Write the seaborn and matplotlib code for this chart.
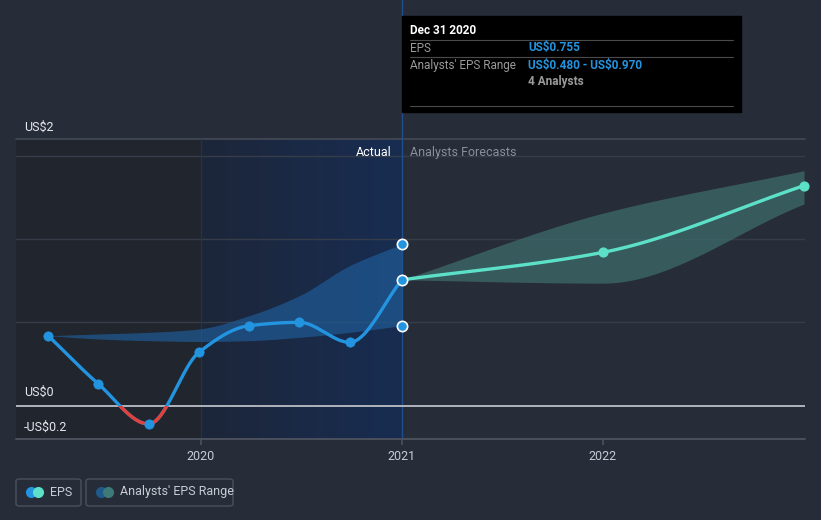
import numpy as np
import pandas as pd
import matplotlib
matplotlib.use("Agg")
import matplotlib.pyplot as plt
import seaborn as sns
from matplotlib.patches import Rectangle, FancyBboxPatch
from matplotlib.colors import LinearSegmentedColormap

# ── data ──────────────────────────────────────────────────────
eps_x = [2019.24, 2019.49, 2019.74, 2019.99, 2020.24, 2020.49, 2020.74, 2021.0]
eps_y = [0.42, 0.13, -0.11, 0.32, 0.48, 0.50, 0.38, 0.755]

past_hi = [0.42, 0.43, 0.44, 0.46, 0.54, 0.66, 0.84, 0.97]
past_lo = [0.42, 0.40, 0.39, 0.385, 0.39, 0.41, 0.44, 0.48]

fc_x = [2021.0, 2022.0, 2023.0]
fc_y = [0.755, 0.92, 1.32]
fc_hi = [0.755, 1.155, 1.41]
fc_lo = [0.755, 0.735, 1.21]

year_ticks = [2020, 2021, 2022]

BG = "#262c38"
BLUE = "#2394df"
RED = "#e0413d"
TEAL = "#5ce1c8"


def smooth(xs, ys, n=40):
    # monotone cubic (pchip-like) for drawing the curve between readings
    xs = np.asarray(xs, float); ys = np.asarray(ys, float)
    h = np.diff(xs); d = np.diff(ys) / h
    m = np.zeros_like(ys)
    m[0], m[-1] = d[0], d[-1]
    for i in range(1, len(xs) - 1):
        if d[i - 1] * d[i] > 0:
            w1 = 2 * h[i] + h[i - 1]; w2 = h[i] + 2 * h[i - 1]
            m[i] = (w1 + w2) / (w1 / d[i - 1] + w2 / d[i])
    ox, oy = [], []
    for i in range(len(xs) - 1):
        t = np.linspace(0, 1, n, endpoint=False)
        h00 = 2*t**3 - 3*t**2 + 1; h10 = t**3 - 2*t**2 + t
        h01 = -2*t**3 + 3*t**2; h11 = t**3 - t**2
        ox.extend(xs[i] + t * h[i])
        oy.extend(h00*ys[i] + h10*h[i]*m[i] + h01*ys[i+1] + h11*h[i]*m[i+1])
    ox.append(xs[-1]); oy.append(ys[-1])
    return np.array(ox), np.array(oy)


# ── figure ────────────────────────────────────────────────────
sns.set_theme(style="dark")
plt.rcParams["font.family"] = ["Roboto", "DejaVu Sans"]
plt.rcParams["text.parse_math"] = False

fig = plt.figure(figsize=(8.21, 5.2), dpi=100, facecolor=BG)
ax = fig.add_axes([16/821, 81/520, 789/821, 300/520])
ax.set_facecolor(BG)
X0, X1 = 2019.08, 2023.005
Y0, Y1 = -0.2, 1.6

# shaded "past" background
ax.add_patch(Rectangle((X0, Y0), 2020 - X0, Y1 - Y0, color="#21252e", lw=0, zorder=0))
grad = LinearSegmentedColormap.from_list("g", ["#1d2639", "#182d52"])
ax.imshow(np.linspace(0, 1, 256)[None, :], cmap=grad, aspect="auto",
          extent=(2020, 2021, Y0, Y1), zorder=0)
ax.set_xlim(X0, X1)
ax.set_ylim(Y0, Y1)

# grid
for g in [0.5, 1.0, 1.5]:
    ax.axhline(g, color="#363c48", lw=1, zorder=1)
ax.axhline(1.6, color="#444a56", lw=1.2, zorder=1, clip_on=False)
ax.axhline(0, color="#b0b4bc", lw=1.4, zorder=2)
ax.axhline(-0.2, color="#4a505c", lw=1.4, zorder=2, clip_on=False)
ax.axvline(2020, color="#20345a", lw=0.8, zorder=1)
ax.axvline(2021, ymin=0, ymax=1.47, color="#1f4f8f", lw=1, zorder=1, clip_on=False)

# bands
bx, bhi = smooth(eps_x, past_hi)
_, blo = smooth(eps_x, past_lo)
ax.fill_between(bx, blo, bhi, color="#1f5a95", alpha=0.7, lw=0, zorder=2)
fx, fhi = smooth(fc_x, fc_hi)
_, flo = smooth(fc_x, fc_lo)
ax.fill_between(fx, flo, fhi, color="#3d6a6a", alpha=0.75, lw=0, zorder=2)

# eps line
sx, sy = smooth(eps_x, eps_y)
curve = pd.DataFrame({"x": sx, "y": sy})
sns.lineplot(data=curve, x="x", y="y", ax=ax, color=BLUE, lw=2.4, zorder=4,
             sort=False, estimator=None)
red = ax.plot(sx, sy, color=RED, lw=2.4, zorder=5, solid_capstyle="butt")[0]
clip = Rectangle((X0, Y0), X1 - X0, 0 - Y0, transform=ax.transData)
red.set_clip_path(clip)

pts = pd.DataFrame({"x": eps_x[:-1], "y": eps_y[:-1]})
sns.scatterplot(data=pts, x="x", y="y", ax=ax, color=BLUE, s=45,
                edgecolor=BLUE, zorder=6)

# forecast line
gx, gy = smooth(fc_x, fc_y)
sns.lineplot(x=gx, y=gy, ax=ax, color=TEAL, lw=2.4, zorder=4, sort=False,
             estimator=None)
ax.scatter(fc_x[1:], fc_y[1:], color=TEAL, s=40, zorder=6, clip_on=False)

# highlighted points at Dec 2020
ax.scatter([2021.0] * 3, [past_hi[-1], eps_y[-1], past_lo[-1]], s=55,
           color=BLUE, edgecolor="white", linewidth=1.2, zorder=7, clip_on=False)

# axes styling
for sp in ax.spines.values():
    sp.set_visible(False)
ax.set_xlabel(""); ax.set_ylabel("")
ax.set_yticks([])
ax.set_xticks(year_ticks)
ax.set_xticklabels([str(y) for y in year_ticks], color="#c8ccd4", fontsize=9)
ax.tick_params(axis="x", length=4, color="#4a505c", pad=4, bottom=True)
ax.grid(False)

# y labels
ax.text(0.01, 1.6 + 0.03, "US$2", transform=ax.get_yaxis_transform(),
        color="#e6e8ec", fontsize=9, va="bottom", ha="left")
ax.text(0.01, 0.04, "US$0", transform=ax.get_yaxis_transform(),
        color="#e6e8ec", fontsize=9, va="bottom", ha="left")
ax.text(0.01, -0.13, "-US$0.2", transform=ax.get_yaxis_transform(),
        color="#e6e8ec", fontsize=9, va="center", ha="left")

ax.text(2020.95, 1.52, "Actual", color="white", fontsize=9, ha="right", va="center")
ax.text(2021.04, 1.52, "Analysts Forecasts", color="#8a8f99", fontsize=9,
        ha="left", va="center")

# tooltip
fig.patches.append(Rectangle((402/821, 1 - 112/520), 339/821, 96/520,
                             transform=fig.transFigure, color="black", zorder=10))
tl = 410/821
fig.text(tl, 1 - 31/520, "Dec 31 2020", color="white", fontsize=8.5,
         fontweight="bold", va="center", zorder=11)
for yy in [40, 57, 106]:
    fig.add_artist(plt.Line2D([tl, 733/821], [1 - yy/520] * 2, color="#4a4a4a",
                              lw=0.8, transform=fig.transFigure, zorder=11))
fig.text(tl, 1 - 48/520, "EPS", color="#9a9a9a", fontsize=8.5, va="center", zorder=11)
fig.text(528/821, 1 - 48/520, "US$0.755", color=BLUE, fontsize=8.5,
         fontweight="bold", va="center", zorder=11)
fig.text(tl, 1 - 65/520, "Analysts' EPS Range", color="#9a9a9a", fontsize=8.5,
         va="center", zorder=11)
fig.text(528/821, 1 - 65/520, "US$0.480 - US$0.970", color=BLUE, fontsize=8.5,
         fontweight="bold", va="center", zorder=11)
fig.text(528/821, 1 - 82/520, "4 Analysts", color="#9a9a9a", fontsize=8.5,
         fontweight="bold", va="center", zorder=11)

# legend boxes
def legend_box(x0, w, label, c1, c2):
    fig.patches.append(FancyBboxPatch((x0/821, 1 - 506/520), w/821, 27/520,
                                      boxstyle="round,pad=0,rounding_size=0.004",
                                      transform=fig.transFigure, fc="none",
                                      ec="#4a505c", lw=1))
    cy = 1 - 492/520
    fig.add_artist(plt.Line2D([(x0 + 15)/821], [cy], marker="o", ms=8,
                              color=c1, mec="none", transform=fig.transFigure))
    fig.add_artist(plt.Line2D([(x0 + 22)/821], [cy], marker="o", ms=8,
                              color=c2, mec="none", transform=fig.transFigure))
    fig.text((x0 + 34)/821, cy, label, color="#c8ccd4", fontsize=9, va="center")

legend_box(16, 65, "EPS", BLUE, TEAL)
legend_box(86, 147, "Analysts' EPS Range", "#1f5a8a", "#3d7a78")

fig.savefig("out.png", dpi=100, facecolor=BG)
